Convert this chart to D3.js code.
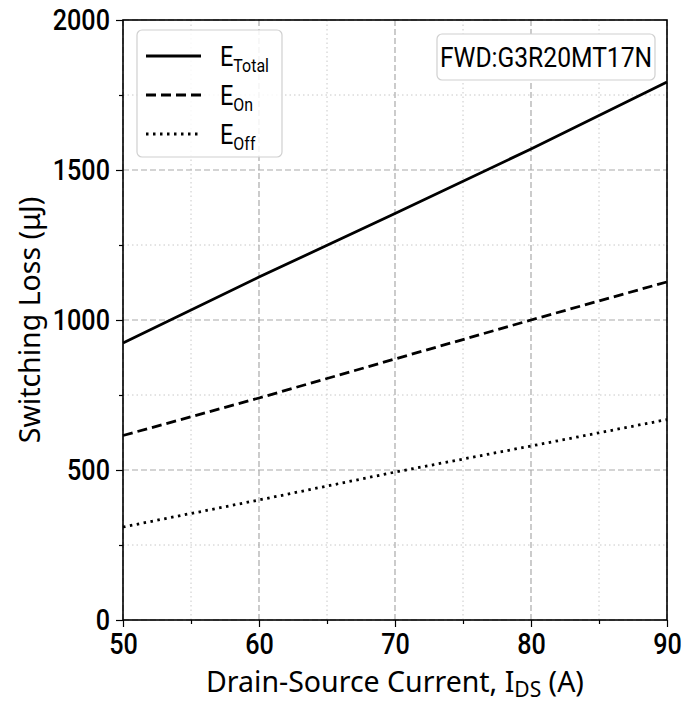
<!DOCTYPE html>
<html>
<head>
<meta charset="utf-8">
<script src="https://cdn.jsdelivr.net/npm/d3@7"></script>
<style>
  body { margin: 0; background: #fff; }
  svg { display: block; }
</style>
</head>
<body>
<div id="chart"></div>
<script>
// values
const currents = [50, 60, 70, 80, 90];
const eTotal = [923, 1143, 1355, 1570, 1793];
const eOn = [615, 740, 870, 1000, 1127];
const eOff = [310, 400, 493, 580, 668];
const xTicks = [50, 60, 70, 80, 90];
const yTicks = [0, 500, 1000, 1500, 2000];
const xMinor = [55, 65, 75, 85];
const yMinor = [250, 750, 1250, 1750];
const deviceLabel = "FWD:G3R20MT17N";

let margin = {left: 123, right: 31, top: 20, bottom: 82};
let width = 698 - margin.left - margin.right,
    height = 702 - margin.top - margin.bottom;

let svg = d3.select("#chart")
    .append("svg")
    .attr("width", 698)
    .attr("height", 702);

let g = svg.append("g")
    .attr("transform", "translate(" + margin.left + ", " + margin.top + ")");

let x = d3.scaleLinear().domain([50, 90]).range([0, width]);
let y = d3.scaleLinear().domain([0, 2000]).range([height, 0]);

const narrowFont = "Roboto, sans-serif";
const squeeze = 0.84;
const labelFont = "'Noto Sans', Lato, sans-serif";

// minor grid
g.selectAll(".xminor").data(xMinor).enter().append("line")
    .attr("x1", d => x(d)).attr("x2", d => x(d))
    .attr("y1", 0).attr("y2", height)
    .attr("stroke", "#c8c8c8").attr("stroke-width", 1)
    .attr("stroke-dasharray", "1.5,3");
g.selectAll(".yminor").data(yMinor).enter().append("line")
    .attr("y1", d => y(d)).attr("y2", d => y(d))
    .attr("x1", 0).attr("x2", width)
    .attr("stroke", "#c8c8c8").attr("stroke-width", 1)
    .attr("stroke-dasharray", "1.5,3");

// major grid
g.selectAll(".xmajor").data(xTicks).enter().append("line")
    .attr("x1", d => x(d)).attr("x2", d => x(d))
    .attr("y1", 0).attr("y2", height)
    .attr("stroke", "#aaaaaa").attr("stroke-width", 1.2)
    .attr("stroke-dasharray", "6,3");
g.selectAll(".ymajor").data(yTicks).enter().append("line")
    .attr("y1", d => y(d)).attr("y2", d => y(d))
    .attr("x1", 0).attr("x2", width)
    .attr("stroke", "#aaaaaa").attr("stroke-width", 1.2)
    .attr("stroke-dasharray", "6,3");

// axes
let xAxisCall = d3.axisBottom(x).tickValues(xTicks).tickSize(7).tickPadding(6).tickFormat(d3.format("d"));
let yAxisCall = d3.axisLeft(y).tickValues(yTicks).tickSize(7).tickPadding(6).tickFormat(d3.format("d"));

let xAxisGroup = g.append("g")
    .attr("transform", "translate(0," + height + ")")
    .call(xAxisCall);
let yAxisGroup = g.append("g").call(yAxisCall);

g.append("g")
    .attr("transform", "translate(0," + height + ")")
    .call(d3.axisBottom(x).tickValues(xMinor).tickSize(4).tickFormat(""))
    .select(".domain").remove();
g.append("g")
    .call(d3.axisLeft(y).tickValues(yMinor).tickSize(4).tickFormat(""))
    .select(".domain").remove();

[xAxisGroup, yAxisGroup].forEach(a => {
    a.selectAll("text")
        .attr("font-family", narrowFont)
        .attr("font-size", "30px")
        .attr("font-weight", 500)
        .attr("fill", "#000");
    a.select(".domain").remove();
});
xAxisGroup.selectAll("text").attr("transform", "scale(" + squeeze + ",1)");
yAxisGroup.selectAll("text")
    .attr("x", -13 / squeeze)
    .attr("transform", "scale(" + squeeze + ",1)");
g.selectAll(".tick line").attr("stroke", "#000").attr("stroke-width", 1.2);

// frame
g.append("rect")
    .attr("width", width).attr("height", height)
    .attr("fill", "none").attr("stroke", "#000").attr("stroke-width", 1.6);

// series
const series = [
    {name: "Total", values: eTotal, dash: null},
    {name: "On", values: eOn, dash: "10,5"},
    {name: "Off", values: eOff, dash: "2.5,4.5"}
];

let line = d3.line()
    .x((d, i) => x(currents[i]))
    .y(d => y(d));

g.selectAll(".series").data(series).enter().append("path")
    .attr("d", d => line(d.values))
    .attr("fill", "none")
    .attr("stroke", "#000")
    .attr("stroke-width", 2.8)
    .attr("stroke-dasharray", d => d.dash);

// legend
let leg = svg.append("g");
leg.append("rect")
    .attr("x", 137).attr("y", 30).attr("width", 145).attr("height", 127)
    .attr("rx", 5).attr("fill", "#fff").attr("fill-opacity", 0.85)
    .attr("stroke", "#d0d0d0").attr("stroke-width", 1.2);

series.forEach((s, i) => {
    let cy = 56 + i * 39;
    leg.append("line")
        .attr("x1", 146).attr("x2", 201)
        .attr("y1", cy).attr("y2", cy)
        .attr("stroke", "#000").attr("stroke-width", 2.8)
        .attr("stroke-dasharray", s.dash);
    let t = leg.append("g")
        .attr("transform", "translate(220," + (cy + 10) + ") scale(" + squeeze + ",1)")
        .append("text")
        .attr("font-family", narrowFont)
        .attr("font-size", "28px")
        .text("E");
    t.append("tspan")
        .attr("dy", 6)
        .attr("font-size", "19px")
        .text(s.name);
});

// device label
svg.append("rect")
    .attr("x", 437).attr("y", 34).attr("width", 218).attr("height", 46)
    .attr("rx", 5).attr("fill", "#fff")
    .attr("stroke", "#d0d0d0").attr("stroke-width", 1.2);
svg.append("g")
    .attr("transform", "translate(546,67) scale(0.88,1)")
    .append("text")
    .attr("text-anchor", "middle")
    .attr("font-family", narrowFont)
    .attr("font-size", "28px")
    .text(deviceLabel);

// axis labels
let xl = svg.append("text")
    .attr("x", margin.left + width / 2)
    .attr("y", 692)
    .attr("text-anchor", "middle")
    .attr("font-family", labelFont)
    .attr("font-size", "28.5px")
    .text("Drain-Source Current, I");
xl.append("tspan").attr("dy", 5).attr("font-size", "21px").text("DS");
xl.append("tspan").attr("dy", -5).text(" (A)");

svg.append("text")
    .attr("transform", "translate(40," + (margin.top + height / 2) + ") rotate(-90)")
    .attr("text-anchor", "middle")
    .attr("font-family", labelFont)
    .attr("font-size", "28.5px")
    .text("Switching Loss (\u03bcJ)");
</script>
</body>
</html>
